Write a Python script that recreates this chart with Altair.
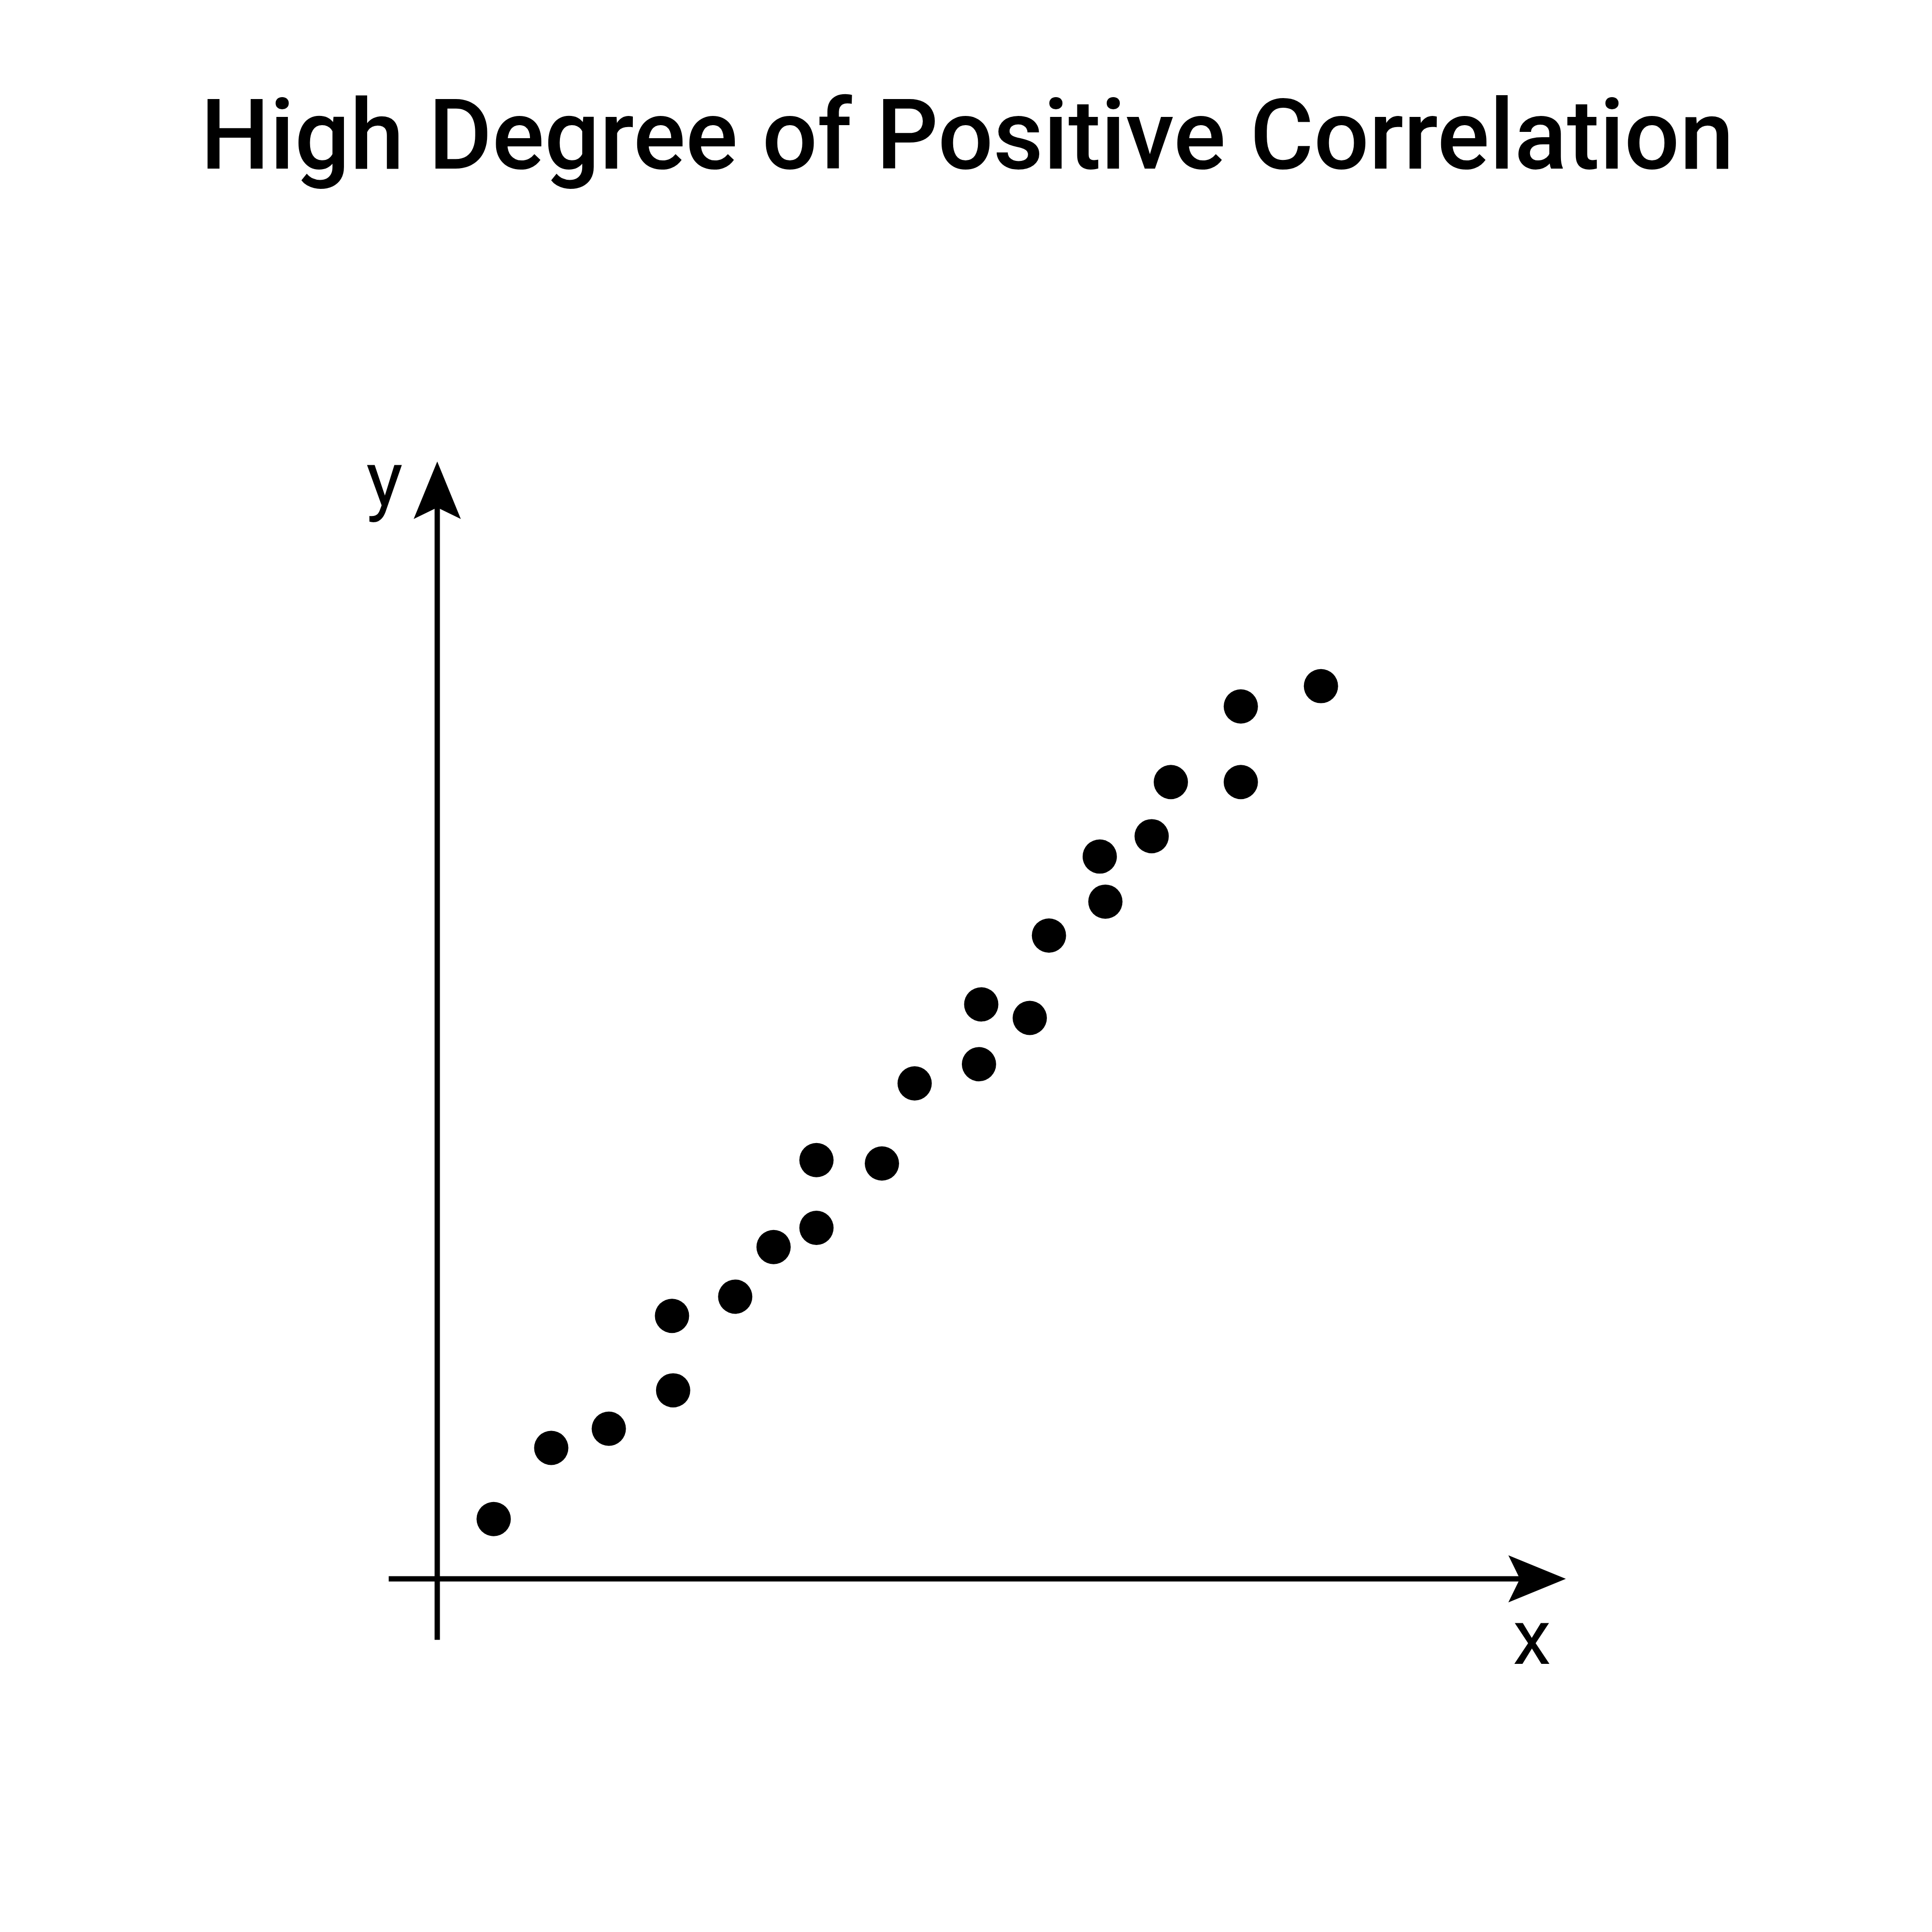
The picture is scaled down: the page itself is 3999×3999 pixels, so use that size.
import altair as alt
import pandas as pd

# scatter values (arbitrary units, origin at the axis crossing)
x_vals = [5.0, 10.1, 15.2, 20.9, 20.8, 26.4, 29.8, 33.6, 33.6, 39.4, 42.3,
          48.0, 48.2, 52.5, 54.2, 59.2, 58.7, 63.3, 65.0, 71.2, 71.2, 78.3]
y_vals = [5.3, 11.6, 13.3, 16.7, 23.3, 25.0, 29.4, 31.1, 37.1, 36.8, 43.9,
          45.6, 50.9, 49.7, 57.0, 60.0, 64.0, 65.8, 70.6, 70.6, 77.3, 79.1]

title_text = "High Degree of Positive Correlation"
axis_labels = ["x", "y"]

X_END, Y_END = 100, 99
X_DOMAIN = [-38.4, 132.1]
Y_DOMAIN = [-30.95, 139.55]

points = pd.DataFrame({"x": x_vals, "y": y_vals})

xs = alt.Scale(domain=X_DOMAIN, nice=False, zero=False)
ys = alt.Scale(domain=Y_DOMAIN, nice=False, zero=False)


def X(field):
    return alt.X(field, type="quantitative", scale=xs, axis=None)


def Y(field):
    return alt.Y(field, type="quantitative", scale=ys, axis=None)


base_w = 11

x_axis = alt.Chart(pd.DataFrame({"x": [-4.3], "x2": [X_END - 3], "y": [0]})).mark_rule(
    color="black", strokeWidth=base_w
).encode(x=X("x"), x2="x2", y=Y("y"))

y_axis = alt.Chart(pd.DataFrame({"x": [0], "y": [-5.4], "y2": [Y_END - 3]})).mark_rule(
    color="black", strokeWidth=base_w
).encode(x=X("x"), y=Y("y"), y2="y2")

# notched arrow head, tip at the symbol's anchor, pointing up
arrow_path = "M0,0 L0.82,2 L0,1.6 L-0.82,2 Z"
arrows = alt.Chart(
    pd.DataFrame({"x": [X_END, 0], "y": [0, Y_END], "angle": [90, 0]})
).mark_point(
    shape=arrow_path, filled=True, opacity=1, color="black", size=14161, strokeWidth=0
).encode(x=X("x"), y=Y("y"), angle=alt.Angle("angle:Q", scale=None))

dots = alt.Chart(points).mark_circle(
    size=5030, color="black", opacity=1
).encode(x=X("x"), y=Y("y"))

labels = alt.Chart(
    pd.DataFrame({"label": axis_labels, "x": [97.0, -4.67], "y": [-7.53, 95.08]})
).mark_text(
    font="Roboto", fontSize=160, color="black", align="center", baseline="alphabetic"
).encode(x=X("x"), y=Y("y"), text="label:N")

title = alt.Chart(
    pd.DataFrame({"label": [title_text], "x": [46.96], "y": [124.96]})
).mark_text(
    font="Roboto", fontSize=202, fontWeight=500, color="black",
    align="center", baseline="alphabetic"
).encode(x=X("x"), y=Y("y"), text="label:N")

chart = alt.layer(x_axis, y_axis, arrows, dots, labels, title).properties(
    width=3983, height=3983, autosize="none", padding=0, background="white"
).configure_view(stroke=None)

chart.save("out.html", embed_options={"renderer": "svg", "actions": False})
